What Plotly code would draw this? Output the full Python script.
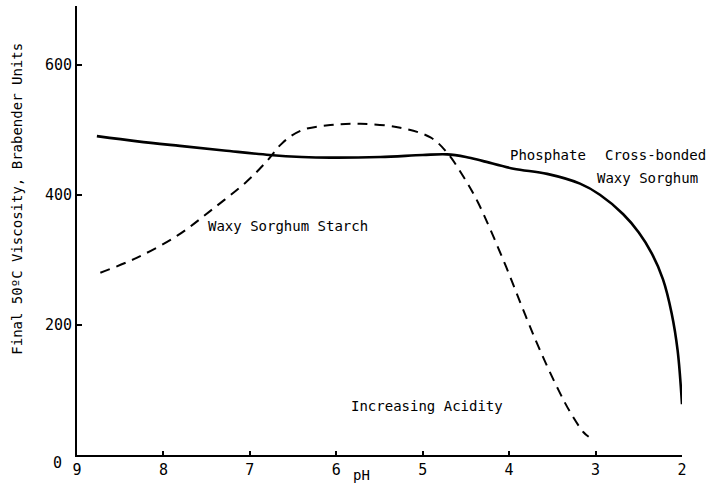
import plotly.graph_objects as go

# Phosphate cross-bonded waxy sorghum (solid curve)
ph_crossbonded = [8.77, 8.3, 7.81, 7.3, 6.77, 6.4, 6.07, 5.49, 5.0, 4.72, 4.5, 4.31,
                  3.95, 3.56, 3.18, 2.95, 2.68, 2.5, 2.35, 2.22, 2.12, 2.05, 2.0]
visc_crossbonded = [490, 482, 475, 468, 461, 458, 457, 458, 461, 462, 458, 452,
                    440, 432, 417, 400, 370, 342, 310, 270, 218, 160, 78]

# Native waxy sorghum starch (dashed curve)
ph_waxy = [8.73, 8.31, 7.84, 7.43, 7.03, 6.8, 6.62, 6.4, 6.07, 5.72, 5.26, 4.91, 4.72,
           4.53, 4.36, 4.05, 3.81, 3.64, 3.43, 3.29, 3.14, 3.08]
visc_waxy = [280, 303, 337, 378, 421, 452, 480, 499, 507, 509, 503, 488, 465,
             428, 388, 294, 214, 160, 100, 65, 35, 28]

x_ticks = [9, 8, 7, 6, 5, 4, 3, 2]
y_ticks = [200, 400, 600]

FONT = "DejaVu Sans Mono"

fig = go.Figure()
fig.add_trace(go.Scatter(
    x=ph_crossbonded, y=visc_crossbonded, mode="lines",
    line=dict(color="black", width=2.6, shape="spline", smoothing=1.0),
    hoverinfo="skip"))
fig.add_trace(go.Scatter(
    x=ph_waxy, y=visc_waxy, mode="lines",
    line=dict(color="black", width=2, dash="10px,7px", shape="spline", smoothing=1.0),
    hoverinfo="skip"))

txt = dict(family=FONT, size=14, color="black")
annotations = [
    dict(x=6.56, y=352, text="Waxy Sorghum Starch", xanchor="center"),
    dict(x=4.013, y=461, text="Phosphate", xanchor="left"),
    dict(x=2.915, y=461, text="Cross-bonded", xanchor="left"),
    dict(x=3.007, y=426, text="Waxy Sorghum", xanchor="left"),
    dict(x=4.95, y=75, text="Increasing Acidity", xanchor="center"),
]
anns = [dict(a, xref="x", yref="y", showarrow=False, yanchor="middle", font=txt)
        for a in annotations]
# Labels sitting below the plotting area
anns.append(dict(x=0.471, xref="paper", y=-0.045, yref="paper", text="pH",
                 showarrow=False, xanchor="center", yanchor="middle", font=txt))
anns.append(dict(x=-0.033, xref="paper", y=-0.018, yref="paper", text="0",
                 showarrow=False, xanchor="center", yanchor="middle",
                 font=dict(family=FONT, size=15, color="black")))
anns.append(dict(x=-0.099, xref="paper", y=394, yref="y",
                 text="Final 50ºC Viscosity, Brabender Units", textangle=-90,
                 showarrow=False, xanchor="center", yanchor="middle", font=txt))

fig.update_layout(
    width=711, height=487,
    margin=dict(l=77, r=29, t=6, b=32),
    paper_bgcolor="white", plot_bgcolor="white",
    showlegend=False,
    annotations=anns,
    xaxis=dict(range=[9, 2], tickvals=x_ticks, ticktext=[str(v) for v in x_ticks],
               showline=True, linecolor="black", linewidth=2,
               ticks="inside", ticklen=4, tickcolor="black", tickwidth=1.5,
               showgrid=False, zeroline=False,
               tickfont=dict(family=FONT, size=15, color="black")),
    yaxis=dict(range=[0, 690], tickvals=y_ticks, ticktext=[str(v) for v in y_ticks],
               showline=True, linecolor="black", linewidth=2,
               ticks="inside", ticklen=5, tickcolor="black", tickwidth=1.5,
               showgrid=False, zeroline=False,
               tickfont=dict(family=FONT, size=15, color="black")),
)

fig.write_html("out.html")
